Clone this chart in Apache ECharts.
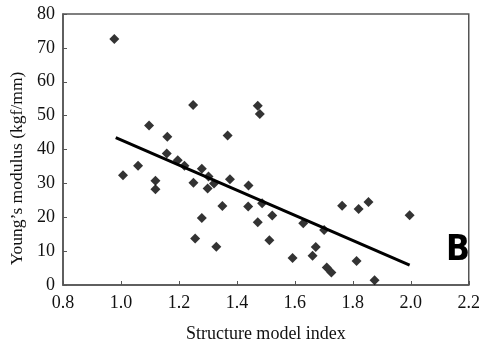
<!DOCTYPE html>
<html><head><meta charset="utf-8">
<script src="https://cdn.jsdelivr.net/npm/echarts@6/dist/echarts.min.js"></script>
<style>html,body{margin:0;padding:0;background:#fff}#c{width:483px;height:350px}</style>
</head><body><div id="c"></div>
<script>
var smiValues = [0.977,1.007,1.059,1.097,1.119,1.119,1.158,1.160,1.196,1.219,1.249,1.250,1.256,1.279,1.279,1.299,1.302,1.321,1.329,1.350,1.368,1.376,1.439,1.440,1.472,1.479,1.472,1.487,1.512,1.522,1.592,1.629,1.661,1.672,1.701,1.710,1.726,1.763,1.813,1.820,1.854,1.875,1.996];
var modulusValues = [72.6,32.4,35.2,47.1,30.8,28.3,38.8,43.8,36.8,35.2,53.1,30.2,13.7,34.3,19.8,28.5,32.0,30.0,11.3,23.3,44.1,31.2,23.2,29.4,52.9,50.5,18.5,24.1,13.2,20.5,8.0,18.2,8.6,11.2,16.2,5.2,3.7,23.4,7.1,22.4,24.5,1.4,20.6];
var fitX = [0.982, 1.996];
var fitY = [43.5, 5.9];
var xTickLabels = ['0.8','1.0','1.2','1.4','1.6','1.8','2.0','2.2'];
var panelLabel = 'B';

var pts = smiValues.map(function(x,i){return [x, modulusValues[i]];});
var fit = fitX.map(function(x,i){return [x, fitY[i]];});
var serif = '"Liberation Serif","Times New Roman",serif';
var chart = echarts.init(document.getElementById('c'));
chart.setOption({
  animation:false,
  grid:{left:63,right:11,top:14,bottom:65,show:true,borderColor:'#555',borderWidth:1.5,backgroundColor:'transparent'},
  xAxis:{type:'value',min:0.8,max:2.2,interval:0.2,
    name:'Structure model index',nameLocation:'middle',nameGap:40,
    nameTextStyle:{fontFamily:serif,fontSize:18,color:'#111'},
    axisLine:{lineStyle:{color:'#555',width:1.5}},
    axisTick:{inside:true,length:4,lineStyle:{color:'#555'}},
    splitLine:{show:false},
    axisLabel:{margin:9,fontFamily:serif,fontSize:18,color:'#111',
      formatter:function(v){return xTickLabels[Math.round((v-0.8)/0.2)];}}},
  yAxis:{type:'value',min:0,max:80,interval:10,
    name:'Young\u2019s modulus (kgf/mm)',nameLocation:'middle',nameGap:28,
    nameTextStyle:{fontFamily:serif,fontSize:17.5,color:'#111',padding:[0,38,0,0]},
    axisLine:{lineStyle:{color:'#555',width:1.5}},
    axisTick:{inside:true,length:4,lineStyle:{color:'#555'}},
    splitLine:{show:false},
    axisLabel:{margin:8,fontFamily:serif,fontSize:18,color:'#111'}},
  series:[
    {type:'scatter',data:pts,symbol:'diamond',symbolSize:10,itemStyle:{color:'#000'},z:3},
    {type:'line',data:fit,symbol:'none',lineStyle:{color:'#000',width:3},z:2}
  ],
  graphic:[{type:'text',left:446,top:233,style:{text:panelLabel,font:'bold 35px "DejaVu Sans Condensed","Liberation Sans",Arial,sans-serif',fill:'#000'}}]
});
</script></body></html>
